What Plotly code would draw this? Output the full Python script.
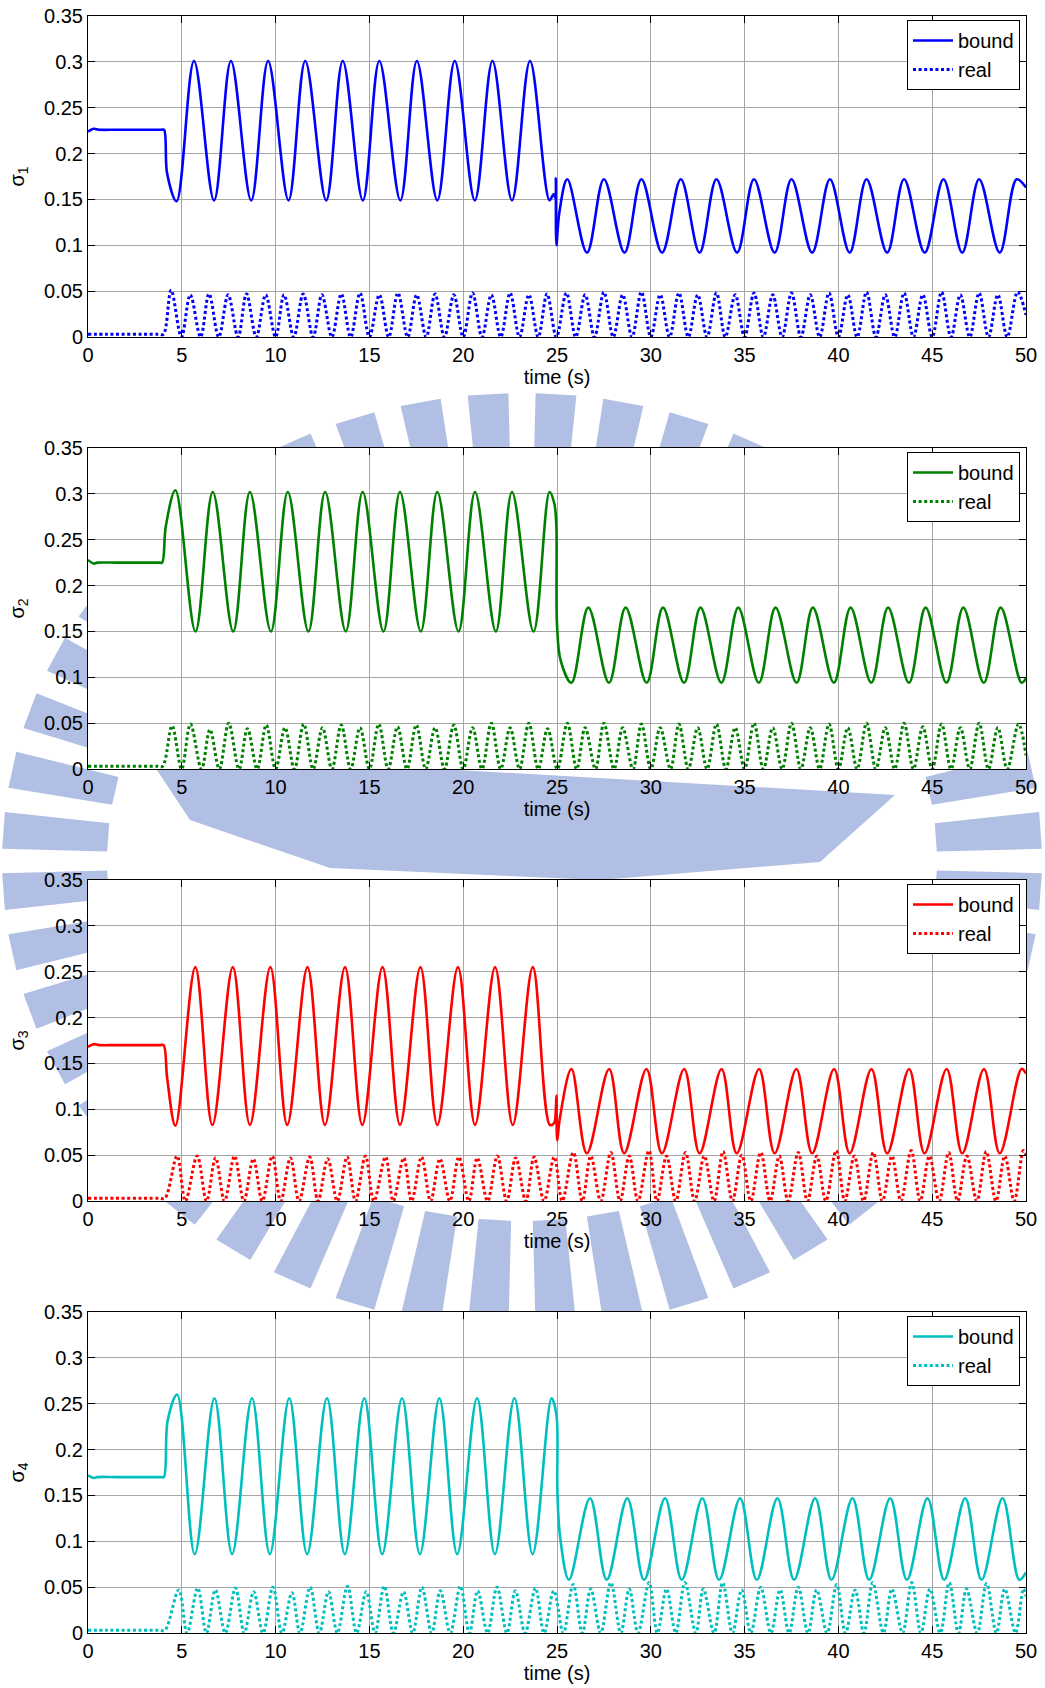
import math
import plotly.graph_objects as go

# ---------------- data ----------------
time_ticks = [0, 5, 10, 15, 20, 25, 30, 35, 40, 45, 50]
sigma_ticks = [0, 0.05, 0.1, 0.15, 0.2, 0.25, 0.3, 0.35]

# sigma_1 bound (blue)
b1_t = [0, 0.3, 0.6, 1.5, 2.5, 3.5, 3.9, 4.05, 4.22, 4.72, 5.65, 6.72, 7.62, 8.7, 9.6, 10.69, 11.58, 12.7, 13.58,
        14.65, 15.53, 16.65, 17.53, 18.62, 19.55, 20.62, 21.56, 22.6, 23.56, 24.6, 24.82, 24.92,
        24.94, 24.97, 25.12, 25.55, 26.6, 27.5, 28.6, 29.5, 30.6, 31.6, 32.6, 33.5, 34.6, 35.5,
        36.6, 37.5, 38.6, 39.55, 40.6, 41.5, 42.6, 43.5, 44.6, 45.6, 46.6, 47.5, 48.6, 49.5, 50]
b1_v = [0.224, 0.227, 0.226, 0.226, 0.226, 0.226, 0.226, 0.226, 0.178, 0.148, 0.301, 0.149, 0.301, 0.149, 0.301, 0.149, 0.301, 0.149, 0.301,
        0.149, 0.301, 0.149, 0.301, 0.149, 0.301, 0.149, 0.301, 0.149, 0.301, 0.149, 0.156, 0.151,
        0.173, 0.100, 0.135, 0.172, 0.092, 0.172, 0.092, 0.172, 0.092, 0.172, 0.092, 0.172, 0.092, 0.172,
        0.092, 0.172, 0.092, 0.172, 0.092, 0.172, 0.092, 0.172, 0.092, 0.172, 0.092, 0.172, 0.092, 0.172, 0.163]

# sigma_2 bound (green)
b2_t = [0, 0.3, 0.5, 1.5, 2.5, 3.5, 3.8, 3.95, 4.15, 4.66, 5.73, 6.65, 7.74, 8.63, 9.75, 10.65, 11.75, 12.64, 13.74,
        14.64, 15.75, 16.63, 17.74, 18.62, 19.75, 20.63, 21.74, 22.6, 23.75, 24.6, 24.85, 24.96,
        25.0, 25.2, 25.77, 26.67, 27.77, 28.66, 29.78, 30.65, 31.77, 32.65, 33.76, 34.66, 35.76,
        36.65, 37.77, 38.64, 39.76, 40.65, 41.75, 42.65, 43.76, 44.65, 45.76, 46.66, 47.75, 48.65, 49.76, 50]
b2_v = [0.228, 0.224, 0.225, 0.225, 0.225, 0.225, 0.225, 0.225, 0.265, 0.304, 0.150, 0.302, 0.150, 0.302, 0.150, 0.302, 0.150, 0.302, 0.150,
        0.302, 0.150, 0.302, 0.150, 0.302, 0.150, 0.302, 0.150, 0.302, 0.150, 0.302, 0.290, 0.268,
        0.158, 0.118, 0.094, 0.176, 0.094, 0.176, 0.094, 0.176, 0.094, 0.176, 0.094, 0.176, 0.094,
        0.176, 0.094, 0.176, 0.094, 0.176, 0.094, 0.176, 0.094, 0.176, 0.094, 0.176, 0.094, 0.176, 0.094, 0.099]

# sigma_3 bound (red)
b3_t = [0, 0.3, 0.6, 1.5, 2.5, 3.5, 3.85, 4.03, 4.22, 4.66, 5.72, 6.63, 7.72, 8.63, 9.72, 10.62, 11.7, 12.63, 13.7,
        14.62, 15.7, 16.63, 17.72, 18.62, 19.72, 20.63, 21.7, 22.64, 23.71, 24.62, 24.85, 24.93,
        24.97, 25.01, 25.15, 25.77, 26.59, 27.78, 28.58, 29.77, 30.59, 31.78, 32.6, 33.77, 34.58,
        35.77, 36.6, 37.76, 38.6, 39.77, 40.6, 41.76, 42.6, 43.77, 44.59, 45.77, 46.6, 47.76, 48.6, 49.76, 50]
b3_v = [0.168, 0.171, 0.170, 0.170, 0.170, 0.170, 0.170, 0.170, 0.134, 0.082, 0.255, 0.083, 0.255, 0.083, 0.255, 0.083, 0.255, 0.083, 0.255,
        0.083, 0.255, 0.083, 0.255, 0.083, 0.255, 0.083, 0.255, 0.083, 0.255, 0.083, 0.085, 0.097,
        0.115, 0.066, 0.090, 0.144, 0.052, 0.144, 0.052, 0.144, 0.052, 0.144, 0.052, 0.144, 0.052,
        0.144, 0.052, 0.144, 0.052, 0.144, 0.052, 0.144, 0.052, 0.144, 0.052, 0.144, 0.052, 0.144, 0.052, 0.144, 0.139]

# sigma_4 bound (cyan)
b4_t = [0, 0.3, 0.5, 1.5, 2.5, 3.5, 3.88, 4.04, 4.25, 4.75, 5.69, 6.74, 7.68, 8.74, 9.69, 10.73, 11.68, 12.74, 13.69,
        14.73, 15.68, 16.74, 17.69, 18.73, 19.68, 20.74, 21.69, 22.73, 23.7, 24.71, 24.97, 25.02,
        25.17, 25.64, 26.76, 27.65, 28.75, 29.64, 30.76, 31.65, 32.75, 33.64, 34.76, 35.65, 36.75,
        37.64, 38.76, 39.63, 40.75, 41.64, 42.76, 43.65, 44.75, 45.64, 46.76, 47.63, 48.75, 49.64, 50]
b4_v = [0.172, 0.169, 0.170, 0.170, 0.170, 0.170, 0.170, 0.170, 0.232, 0.260, 0.086, 0.256, 0.086, 0.256, 0.086, 0.256, 0.086, 0.256, 0.086,
        0.256, 0.086, 0.256, 0.086, 0.256, 0.086, 0.256, 0.086, 0.256, 0.086, 0.256, 0.238, 0.155,
        0.104, 0.058, 0.147, 0.058, 0.147, 0.058, 0.147, 0.058, 0.147, 0.058, 0.147, 0.058, 0.147,
        0.058, 0.147, 0.058, 0.147, 0.058, 0.147, 0.058, 0.147, 0.058, 0.147, 0.058, 0.147, 0.058, 0.066]

# "real" curves: flat start, then alternating peaks / zero touches
r1_flat_t = [0, 1, 2, 3, 3.75, 4.02]
r1_flat_v = [0.003, 0.003, 0.003, 0.003, 0.003, 0.003]
r1_peak_t = [4.43, 5.45, 6.45, 7.47, 8.45, 9.47, 10.45, 11.47, 12.47, 13.5,
             14.5, 15.53, 16.52, 17.52, 18.5, 19.5, 20.5, 21.5, 22.5, 23.5,
             24.47, 25.5, 26.5, 27.5, 28.5, 29.5, 30.5, 31.5, 32.5, 33.5,
             34.5, 35.5, 36.5, 37.5, 38.5, 39.5, 40.5, 41.5, 42.5, 43.5,
             44.5, 45.5, 46.5, 47.5, 48.5, 49.55]
r1_peak_v = [0.051, 0.046, 0.047, 0.046, 0.047, 0.046, 0.046, 0.047, 0.046, 0.047,
             0.048, 0.046, 0.048, 0.046, 0.047, 0.046, 0.048, 0.046, 0.048, 0.046,
             0.047, 0.048, 0.046, 0.049, 0.046, 0.049, 0.046, 0.048, 0.046, 0.048,
             0.046, 0.048, 0.046, 0.048, 0.046, 0.048, 0.046, 0.049, 0.046, 0.048,
             0.046, 0.049, 0.046, 0.048, 0.046, 0.049]
r1_zero_t = [4.98, 6.0, 6.97, 8.0, 8.97, 10.0, 10.97, 12.0, 13.0, 14.0,
             15.0, 16.03, 17.04, 18.03, 19.0, 20.0, 21.0, 22.0, 23.0, 24.0,
             24.97, 26.0, 27.0, 28.0, 29.0, 30.0, 31.0, 32.0, 33.0, 33.97,
             35.0, 36.0, 37.0, 38.0, 39.0, 40.0, 41.0, 42.0, 43.0, 44.0,
             45.0, 46.0, 47.0, 48.0, 49.0]
r1_end = [50, 0.024]

r2_flat_t = [0, 1, 2, 3, 3.7, 3.98]
r2_flat_v = [0.003, 0.003, 0.003, 0.003, 0.003, 0.003]
r2_peak_t = [4.48, 5.46, 6.5, 7.5, 8.5, 9.5, 10.5, 11.5, 12.5, 13.5,
             14.5, 15.5, 16.5, 17.5, 18.5, 19.5, 20.5, 21.5, 22.5, 23.5,
             24.5, 25.55, 26.5, 27.5, 28.5, 29.5, 30.5, 31.5, 32.5, 33.5,
             34.5, 35.5, 36.5, 37.5, 38.5, 39.5, 40.5, 41.5, 42.5, 43.5,
             44.5, 45.5, 46.5, 47.5, 48.5, 49.6]
r2_peak_v = [0.047, 0.049, 0.043, 0.050, 0.044, 0.048, 0.045, 0.049, 0.045, 0.048,
             0.045, 0.049, 0.046, 0.048, 0.045, 0.048, 0.045, 0.050, 0.045, 0.050,
             0.044, 0.050, 0.045, 0.050, 0.045, 0.049, 0.045, 0.049, 0.045, 0.049,
             0.045, 0.050, 0.045, 0.050, 0.045, 0.049, 0.045, 0.050, 0.045, 0.050,
             0.046, 0.049, 0.045, 0.050, 0.045, 0.049]
r2_zero_t = [4.99, 6.05, 7.0, 8.05, 9.02, 10.0, 11.0, 12.0, 13.0, 14.0,
             15.0, 16.0, 17.0, 18.0, 19.0, 20.0, 21.0, 22.0, 23.0, 24.0,
             25.02, 26.05, 27.05, 28.04, 29.05, 30.0, 31.05, 32.0, 33.0, 34.0,
             35.0, 36.0, 37.0, 38.0, 39.0, 40.0, 41.0, 42.0, 43.0, 44.0,
             45.0, 46.0, 47.0, 48.0, 49.0]
r2_end = [50, 0.015]

r3_flat_t = [0, 1, 2, 3, 3.8, 4.1]
r3_flat_v = [0.003, 0.003, 0.003, 0.003, 0.003, 0.003]
r3_peak_t = [4.75, 5.82, 6.8, 7.81, 8.81, 9.82, 10.79, 11.82, 12.78, 13.81,
             14.79, 15.86, 16.83, 17.78, 18.76, 19.77, 20.75, 21.82, 22.8, 23.78,
             24.85, 25.87, 26.8, 27.87, 28.85, 29.9, 30.84, 31.85, 32.85, 33.85,
             34.85, 35.86, 36.85, 37.86, 38.85, 39.88, 40.85, 41.86, 42.85, 43.88,
             44.85, 45.88, 46.85, 47.88, 48.87, 49.86]
r3_peak_v = [0.049, 0.049, 0.047, 0.049, 0.046, 0.049, 0.047, 0.048, 0.046, 0.048,
             0.049, 0.048, 0.047, 0.048, 0.046, 0.048, 0.047, 0.049, 0.047, 0.048,
             0.048, 0.053, 0.049, 0.053, 0.049, 0.055, 0.049, 0.053, 0.049, 0.054,
             0.050, 0.053, 0.049, 0.053, 0.049, 0.055, 0.049, 0.053, 0.049, 0.055,
             0.049, 0.053, 0.049, 0.054, 0.049, 0.055]
r3_zero_t = [5.19, 6.32, 7.28, 8.31, 9.29, 10.27, 11.25, 12.26, 13.29, 14.26,
             15.24, 16.27, 17.25, 18.26, 19.29, 20.3, 21.3, 22.32, 23.34, 24.31,
             25.28, 26.35, 27.33, 28.36, 29.32, 30.33, 31.33, 32.34, 33.37, 34.35,
             35.33, 36.36, 37.32, 38.35, 39.33, 40.34, 41.34, 42.35, 43.33, 44.36,
             45.37, 46.35, 47.38, 48.4, 49.37]
r3_end = [50, 0.050]

r4_flat_t = [0, 1, 2, 3, 3.8, 4.1]
r4_flat_v = [0.003, 0.003, 0.003, 0.003, 0.003, 0.003]
r4_peak_t = [4.84, 5.85, 6.79, 7.86, 8.83, 9.86, 10.87, 11.84, 12.82, 13.83,
             14.83, 15.79, 16.82, 17.8, 18.78, 19.85, 20.77, 21.8, 22.78, 23.85,
             24.83, 25.86, 26.8, 27.87, 28.85, 29.91, 30.84, 31.82, 32.8, 33.83,
             34.84, 35.86, 36.89, 37.86, 38.84, 39.91, 40.89, 41.83, 42.85, 43.91,
             44.88, 45.91, 46.83, 47.9, 48.87, 49.86]
r4_peak_v = [0.047, 0.049, 0.047, 0.049, 0.045, 0.050, 0.044, 0.050, 0.045, 0.051,
             0.045, 0.051, 0.045, 0.050, 0.046, 0.051, 0.046, 0.050, 0.046, 0.049,
             0.046, 0.053, 0.048, 0.055, 0.048, 0.055, 0.048, 0.055, 0.048, 0.055,
             0.047, 0.050, 0.047, 0.050, 0.047, 0.053, 0.047, 0.055, 0.048, 0.055,
             0.048, 0.055, 0.048, 0.054, 0.048, 0.048]
r4_zero_t = [5.28, 6.31, 7.32, 8.33, 9.33, 10.34, 11.3, 12.33, 13.29, 14.32,
             15.3, 16.28, 17.31, 18.32, 19.31, 20.33, 21.3, 22.33, 23.3, 24.31,
             25.34, 26.35, 27.33, 28.4, 29.32, 30.35, 31.33, 32.4, 33.37, 34.35,
             35.33, 36.4, 37.37, 38.38, 39.4, 40.38, 41.36, 42.4, 43.42, 44.4,
             45.43, 46.4, 47.4, 48.42, 49.44]
r4_end = [50, 0.040]

series_names = ["bound", "real"]
y_titles = ["σ<sub>1</sub>", "σ<sub>2</sub>", "σ<sub>3</sub>", "σ<sub>4</sub>"]
colors = ["#0000ff", "#008000", "#ff0000", "#00bfbf"]
x_title = "time (s)"


def build_real(flat_t, flat_v, peak_t, peak_v, zero_t, end):
    t = list(flat_t)
    v = list(flat_v)
    for i in range(len(zero_t)):
        t += [peak_t[i], zero_t[i]]
        v += [peak_v[i], 0.0]
    t.append(peak_t[-1]); v.append(peak_v[-1])
    t.append(end[0]); v.append(end[1])
    return t, v


bounds = [(b1_t, b1_v), (b2_t, b2_v), (b3_t, b3_v), (b4_t, b4_v)]
reals = [build_real(r1_flat_t, r1_flat_v, r1_peak_t, r1_peak_v, r1_zero_t, r1_end),
         build_real(r2_flat_t, r2_flat_v, r2_peak_t, r2_peak_v, r2_zero_t, r2_end),
         build_real(r3_flat_t, r3_flat_v, r3_peak_t, r3_peak_v, r3_zero_t, r3_end),
         build_real(r4_flat_t, r4_flat_v, r4_peak_t, r4_peak_v, r4_zero_t, r4_end)]

# ---------------- figure ----------------
W, H = 1045, 1688
FONT = "Arial, 'Liberation Sans', Helvetica, sans-serif"
x_left, x_right = 88, 1026
tops = [16, 448, 880, 1312]
plot_h = 321

fig = go.Figure()
layout = dict(
    template="none",
    width=W, height=H, margin=dict(l=0, r=0, t=0, b=0, pad=0),
    paper_bgcolor="white", plot_bgcolor="white",
    font=dict(family=FONT, size=20, color="black"),
    showlegend=True,
)


def P(x, y):
    return "%.5f,%.5f" % (x / W, 1 - y / H)


# faint background watermark (emblem-like ring of rays + hull), only visible outside the axes
WM = "#b0bfe3"
cx, cy = 522, 861
rx_in, ry_in, rx_out, ry_out = 415, 360, 520, 468
n_rays = 48
shapes = []
for k in range(n_rays):
    a0 = 2 * math.pi * (k + 0.2) / n_rays
    a1 = a0 + 2 * math.pi / n_rays * 0.6
    pts = [(cx + rx_in * math.cos(a0), cy + ry_in * math.sin(a0)),
           (cx + rx_out * math.cos(a0), cy + ry_out * math.sin(a0)),
           (cx + rx_out * math.cos(a1), cy + ry_out * math.sin(a1)),
           (cx + rx_in * math.cos(a1), cy + ry_in * math.sin(a1))]
    path = "M " + " L ".join(P(x, y) for x, y in pts) + " Z"
    shapes.append(dict(type="path", path=path, xref="paper", yref="paper",
                       fillcolor=WM, line=dict(width=0), layer="below"))

hull = [(145, 752), (895, 795), (820, 862), (600, 880), (330, 868), (190, 820)]
shapes.append(dict(type="path", path="M " + " L ".join(P(x, y) for x, y in hull) + " Z",
                   xref="paper", yref="paper", fillcolor=WM, line=dict(width=0), layer="below"))

# opaque white plot areas on top of the watermark
for top in tops:
    shapes.append(dict(type="rect", xref="paper", yref="paper",
                       x0=x_left / W, x1=x_right / W, y0=1 - (top + plot_h) / H, y1=1 - top / H,
                       fillcolor="white", line=dict(width=0), layer="below"))
layout["shapes"] = shapes

for i in range(4):
    n = "" if i == 0 else str(i + 1)
    xa, ya = "x" + n, "y" + n
    leg = "legend" + n
    bt, bv = bounds[i]
    rt, rv = reals[i]
    fig.add_trace(go.Scatter(x=bt, y=bv, mode="lines", name=series_names[0],
                             line=dict(color=colors[i], width=2.6, shape="spline", smoothing=1.0),
                             xaxis=xa, yaxis=ya, legend=leg))
    fig.add_trace(go.Scatter(x=rt, y=rv, mode="lines", name=series_names[1],
                             line=dict(color=colors[i], width=3, dash="3px,2.6px",
                                       shape="spline", smoothing=1.0),
                             xaxis=xa, yaxis=ya, legend=leg))
    top = tops[i]
    bottom = top + plot_h
    dom_y = [1 - bottom / H, 1 - top / H]
    axis_common = dict(showline=True, linecolor="black", linewidth=1, mirror="allticks",
                       ticks="inside", ticklen=7, tickcolor="black", automargin=False,
                       showgrid=True, gridcolor="#a6a6a6", gridwidth=1,
                       zeroline=False, tickfont=dict(family=FONT, size=20, color="black"))
    layout["xaxis" + n] = dict(domain=[x_left / W, x_right / W], anchor=ya, range=[0, 50],
                               tickvals=time_ticks, ticktext=[str(v) for v in time_ticks],
                               title=dict(text=x_title, standoff=2,
                                          font=dict(family=FONT, size=20, color="black")),
                               **axis_common)
    layout["yaxis" + n] = dict(domain=dom_y, anchor=xa, range=[0, 0.35],
                               tickvals=sigma_ticks, ticktext=[("%g" % v) for v in sigma_ticks],
                               title=dict(text=y_titles[i], standoff=14,
                                          font=dict(family=FONT, size=20, color="black")),
                               **axis_common)
    layout[leg] = dict(x=1020 / W, xanchor="right", y=1 - (top + 4) / H, yanchor="top",
                       bgcolor="white", bordercolor="black", borderwidth=1,
                       font=dict(family=FONT, size=20, color="black"),
                       tracegroupgap=0, itemwidth=40)

fig.update_layout(**layout)
fig.write_html("out.html")
